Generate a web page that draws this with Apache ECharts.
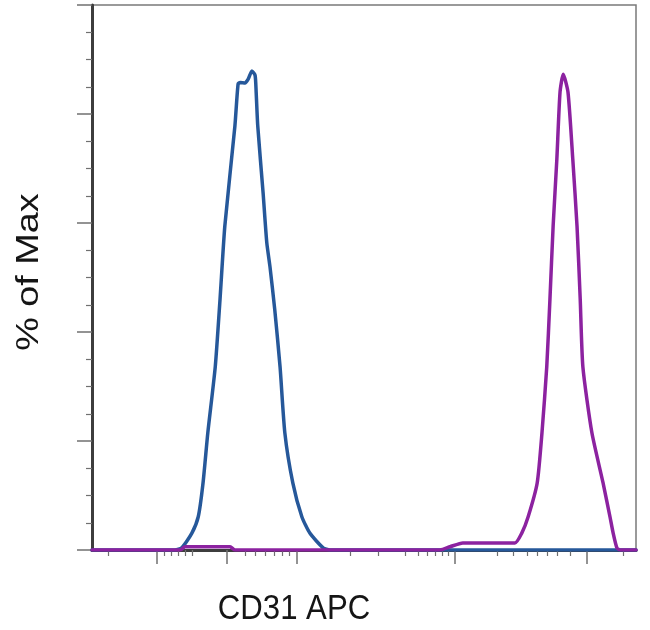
<!DOCTYPE html>
<html>
<head>
<meta charset="utf-8">
<script src="https://cdn.jsdelivr.net/npm/echarts@6/dist/echarts.min.js"></script>
<style>
  html, body { margin: 0; padding: 0; background: #ffffff; }
  #chart { width: 650px; height: 630px; }
</style>
</head>
<body>
<div id="chart"></div>
<script>
// x values are display channels (0-1024) of the biexponential CD31 APC scale, y values are % of Max
const blueX = [0, 156, 169, 188, 200, 209, 218, 232, 241, 250, 269, 275, 279, 288, 294, 301, 307, 309, 312, 322, 329, 335, 344, 354, 363, 378, 395, 410, 435, 448, 1024];
const blueY = [0, 0, 0.4, 3.1, 6.1, 12.3, 21.5, 33.6, 46.0, 59.4, 77.8, 85.5, 85.8, 85.7, 86.4, 87.9, 87.1, 84.0, 77.8, 65.6, 56.4, 52.0, 44.1, 33.6, 21.5, 12.3, 6.1, 3.1, 0.4, 0, 0];

const magentaX = [0, 166, 175, 260, 269, 655, 674, 698, 796, 809, 821, 838, 847, 856, 862, 868, 875, 881, 887, 896, 905, 913, 919, 924, 941, 962, 975, 981, 988, 994, 1024];
const magentaY = [0, 0, 0.6, 0.6, 0, 0, 0.6, 1.3, 1.3, 3.1, 6.1, 12.3, 21.5, 33.6, 46.0, 59.4, 71.7, 84.0, 87.3, 84.0, 71.7, 59.4, 46.0, 33.6, 21.5, 12.3, 6.1, 3.1, 0.4, 0, 0];

// tick positions on the channel scale
const majorTicks = [122, 254, 386, 683, 932];
const minorTicks = [30, 136, 149, 162, 175, 188, 288, 307, 326, 343, 358, 371, 486, 538, 589, 614, 631, 646, 659, 670, 762, 793, 819, 838, 857, 875, 900, 1000];

const xLabel = 'CD31 APC';
const yLabel = '% of Max';

function pairs(xs, ys) { return xs.map((x, i) => [x, ys[i]]); }

const chart = echarts.init(document.getElementById('chart'), null, { renderer: 'canvas' });
const axisDark = '#3d3d3d';
const tickCol = '#707070';
const fontFam = '"Liberation Sans", Arial, sans-serif';

chart.setOption({
  backgroundColor: '#ffffff',
  animation: false,
  grid: {
    left: 92, right: 14, top: 5, bottom: 80,
    show: true, borderColor: '#7a7a7a', borderWidth: 1.5, backgroundColor: 'transparent'
  },
  xAxis: [
    {
      type: 'value', min: 0, max: 1024, position: 'bottom',
      axisLine: { show: true, onZero: false, lineStyle: { color: axisDark, width: 3 } },
      axisTick: { show: true, customValues: majorTicks, length: 14, lineStyle: { color: tickCol, width: 1.5 } },
      axisLabel: { show: false },
      splitLine: { show: false }
    },
    {
      type: 'value', min: 0, max: 1024, position: 'bottom',
      axisLine: { show: false, onZero: false },
      axisTick: { show: true, customValues: minorTicks, length: 6, lineStyle: { color: tickCol, width: 1.2 } },
      axisLabel: { show: false },
      splitLine: { show: false }
    }
  ],
  yAxis: {
    type: 'value', min: 0, max: 100, interval: 20,
    axisLine: { show: true, lineStyle: { color: axisDark, width: 3 } },
    axisTick: { show: true, length: 15, lineStyle: { color: tickCol, width: 1.5 } },
    minorTick: { show: true, splitNumber: 4, length: 6, lineStyle: { color: tickCol, width: 1.2 } },
    axisLabel: { show: false },
    splitLine: { show: false },
    minorSplitLine: { show: false }
  },
  series: [
    {
      name: 'Control', type: 'line', xAxisIndex: 0, yAxisIndex: 0,
      data: pairs(blueX, blueY), showSymbol: false, symbol: 'none',
      smooth: 0.2,
      lineStyle: { color: '#26589a', width: 3.5, join: 'round', cap: 'round' },
      z: 3
    },
    {
      name: 'CD31 APC', type: 'line', xAxisIndex: 0, yAxisIndex: 0,
      data: pairs(magentaX, magentaY), showSymbol: false, symbol: 'none',
      smooth: 0.2,
      lineStyle: { color: '#8c22a0', width: 3.5, join: 'round', cap: 'round' },
      z: 4
    }
  ],
  graphic: [
    {
      type: 'text', x: 294, y: 609, z: 10, scaleX: 0.89, scaleY: 1,
      style: {
        text: xLabel, fontSize: 35, fontFamily: fontFam, fill: '#151515',
        align: 'center', verticalAlign: 'middle', textAlign: 'center', textVerticalAlign: 'middle'
      }
    },
    {
      type: 'text', x: 29, y: 272, rotation: Math.PI / 2, z: 10, scaleX: 1.08, scaleY: 0.9,
      style: {
        text: yLabel, fontSize: 35, fontFamily: fontFam, fill: '#151515',
        align: 'center', verticalAlign: 'middle', textAlign: 'center', textVerticalAlign: 'middle'
      }
    }
  ]
});
</script>
</body>
</html>
